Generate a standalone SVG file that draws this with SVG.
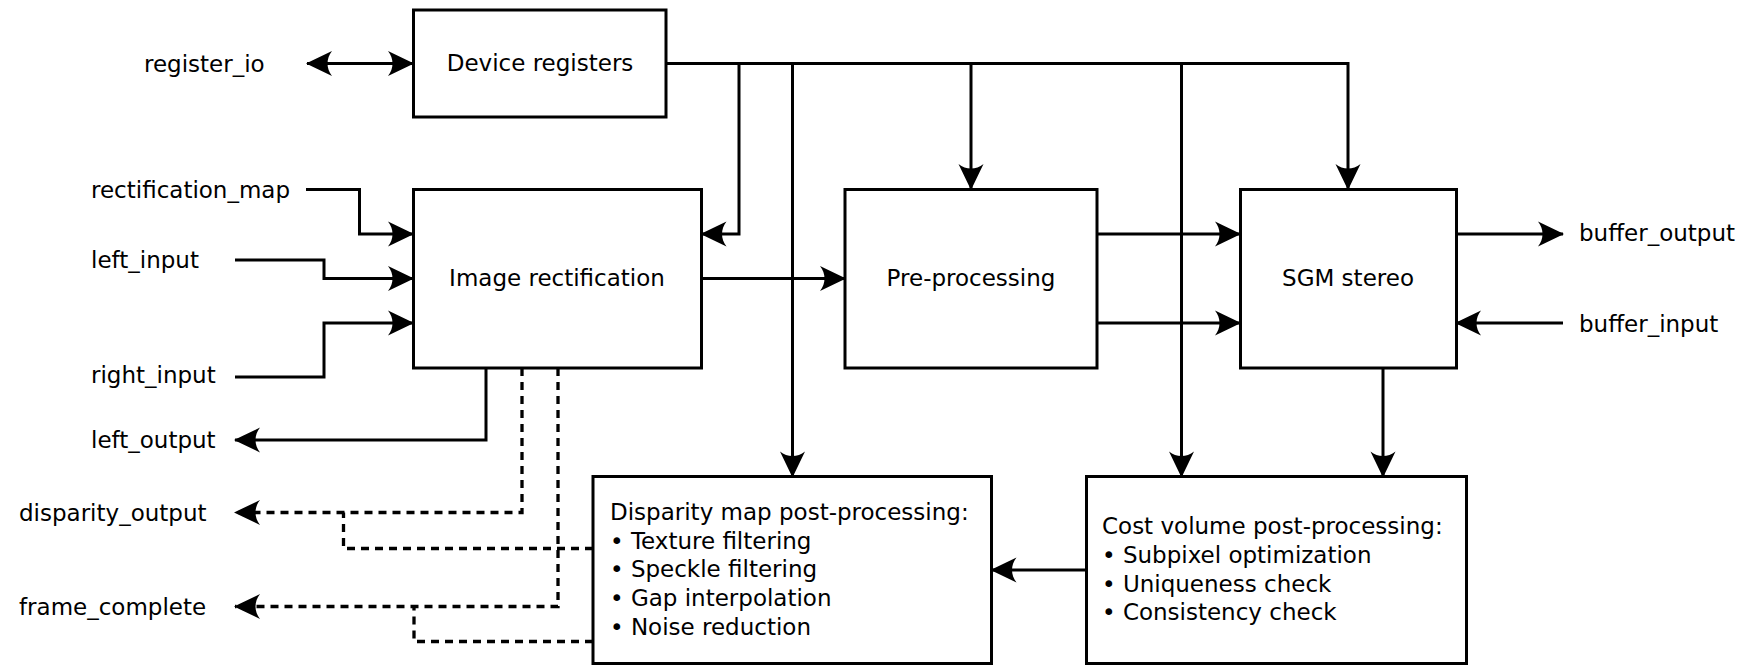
<svg xmlns="http://www.w3.org/2000/svg" width="1753" height="669" viewBox="0 0 1753 669">
<style>
text{font-family:"DejaVu Sans","Liberation Sans",sans-serif;font-size:23px;fill:#000;dominant-baseline:central}
.box{fill:#fff;stroke:#000;stroke-width:3}
.c{text-anchor:middle}
.ln{fill:none;stroke:#000;stroke-width:3}
.arr{marker-end:url(#ah)}
.dash{stroke-dasharray:8 6;stroke-width:3.3}
</style>
<defs>
<marker id="ah" viewBox="-26 -14 28 28" refX="0" refY="0" markerWidth="28" markerHeight="28" markerUnits="userSpaceOnUse" orient="auto-start-reverse">
<path d="M1,0 L-25,-12.5 C-19,-5 -19,5 -25,12.5 Z" fill="#000" stroke="none"/>
</marker>
</defs>
<rect width="1753" height="669" fill="#fff"/>
<g id="connectors">
<path class="ln" d="M307,63.5 H413" marker-start="url(#ah)" marker-end="url(#ah)"/>
<path class="ln arr" d="M666,63.5 H1348 V189"/>
<path class="ln arr" d="M739,63.5 V234 H701.5"/>
<path class="ln arr" d="M792.5,63.5 V476.5"/>
<path class="ln arr" d="M971,63.5 V189"/>
<path class="ln arr" d="M1181.5,63.5 V476.5"/>
<path class="ln arr" d="M306,189.5 H359.5 V234 H413"/>
<path class="ln arr" d="M235,260 H324 V278.5 H413"/>
<path class="ln arr" d="M235,377 H324 V323 H413"/>
<path class="ln arr" d="M701.5,278.5 H845"/>
<path class="ln arr" d="M1097,234 H1240"/>
<path class="ln arr" d="M1097,323 H1240"/>
<path class="ln arr" d="M1456,234 H1563"/>
<path class="ln arr" d="M1563,323 H1456"/>
<path class="ln arr" d="M1383,368 V476.5"/>
<path class="ln arr" d="M1086.5,570 H991.5"/>
<path class="ln arr" d="M486,368 V440 H235"/>
<path class="ln dash arr" d="M522,368 V512.5 H235"/>
<path class="ln dash" d="M593,548.5 H343.5 V512.5"/>
<path class="ln dash arr" d="M558,368 V606.5 H235"/>
<path class="ln dash" d="M593,641.5 H414 V606.5"/>
</g>
<g id="labels">
<text x="144" y="63.5">register_io</text>
<text x="91" y="190">rectification_map</text>
<text x="91" y="260">left_input</text>
<text x="91" y="375">right_input</text>
<text x="91" y="440">left_output</text>
<text x="19" y="513">disparity_output</text>
<text x="19" y="606.5">frame_complete</text>
<text x="1579" y="233">buffer_output</text>
<text x="1579" y="324">buffer_input</text>
</g>
<g id="device_registers">
<rect class="box" x="413.5" y="10" width="252.5" height="107"/>
<text class="c" x="540" y="63">Device registers</text>
</g>
<g id="image_rectification">
<rect class="box" x="413.5" y="189.5" width="288" height="178.5"/>
<text class="c" x="557" y="278">Image rectification</text>
</g>
<g id="pre_processing">
<rect class="box" x="845" y="189.5" width="252" height="178.5"/>
<text class="c" x="971" y="278">Pre-processing</text>
</g>
<g id="sgm_stereo">
<rect class="box" x="1240.5" y="189.5" width="216" height="178.5"/>
<text class="c" x="1348" y="278">SGM stereo</text>
</g>
<g id="disparity_post">
<rect class="box" x="593" y="476.5" width="398.5" height="187"/>
<text x="610" y="512">Disparity map post-processing:</text>
<text x="610" y="540.5">• Texture filtering</text>
<text x="610" y="569">• Speckle filtering</text>
<text x="610" y="598">• Gap interpolation</text>
<text x="610" y="626.5">• Noise reduction</text>
</g>
<g id="cost_post">
<rect class="box" x="1086.5" y="476.5" width="380" height="187"/>
<text x="1102" y="526">Cost volume post-processing:</text>
<text x="1102" y="555">• Subpixel optimization</text>
<text x="1102" y="583.5">• Uniqueness check</text>
<text x="1102" y="612">• Consistency check</text>
</g>
</svg>
